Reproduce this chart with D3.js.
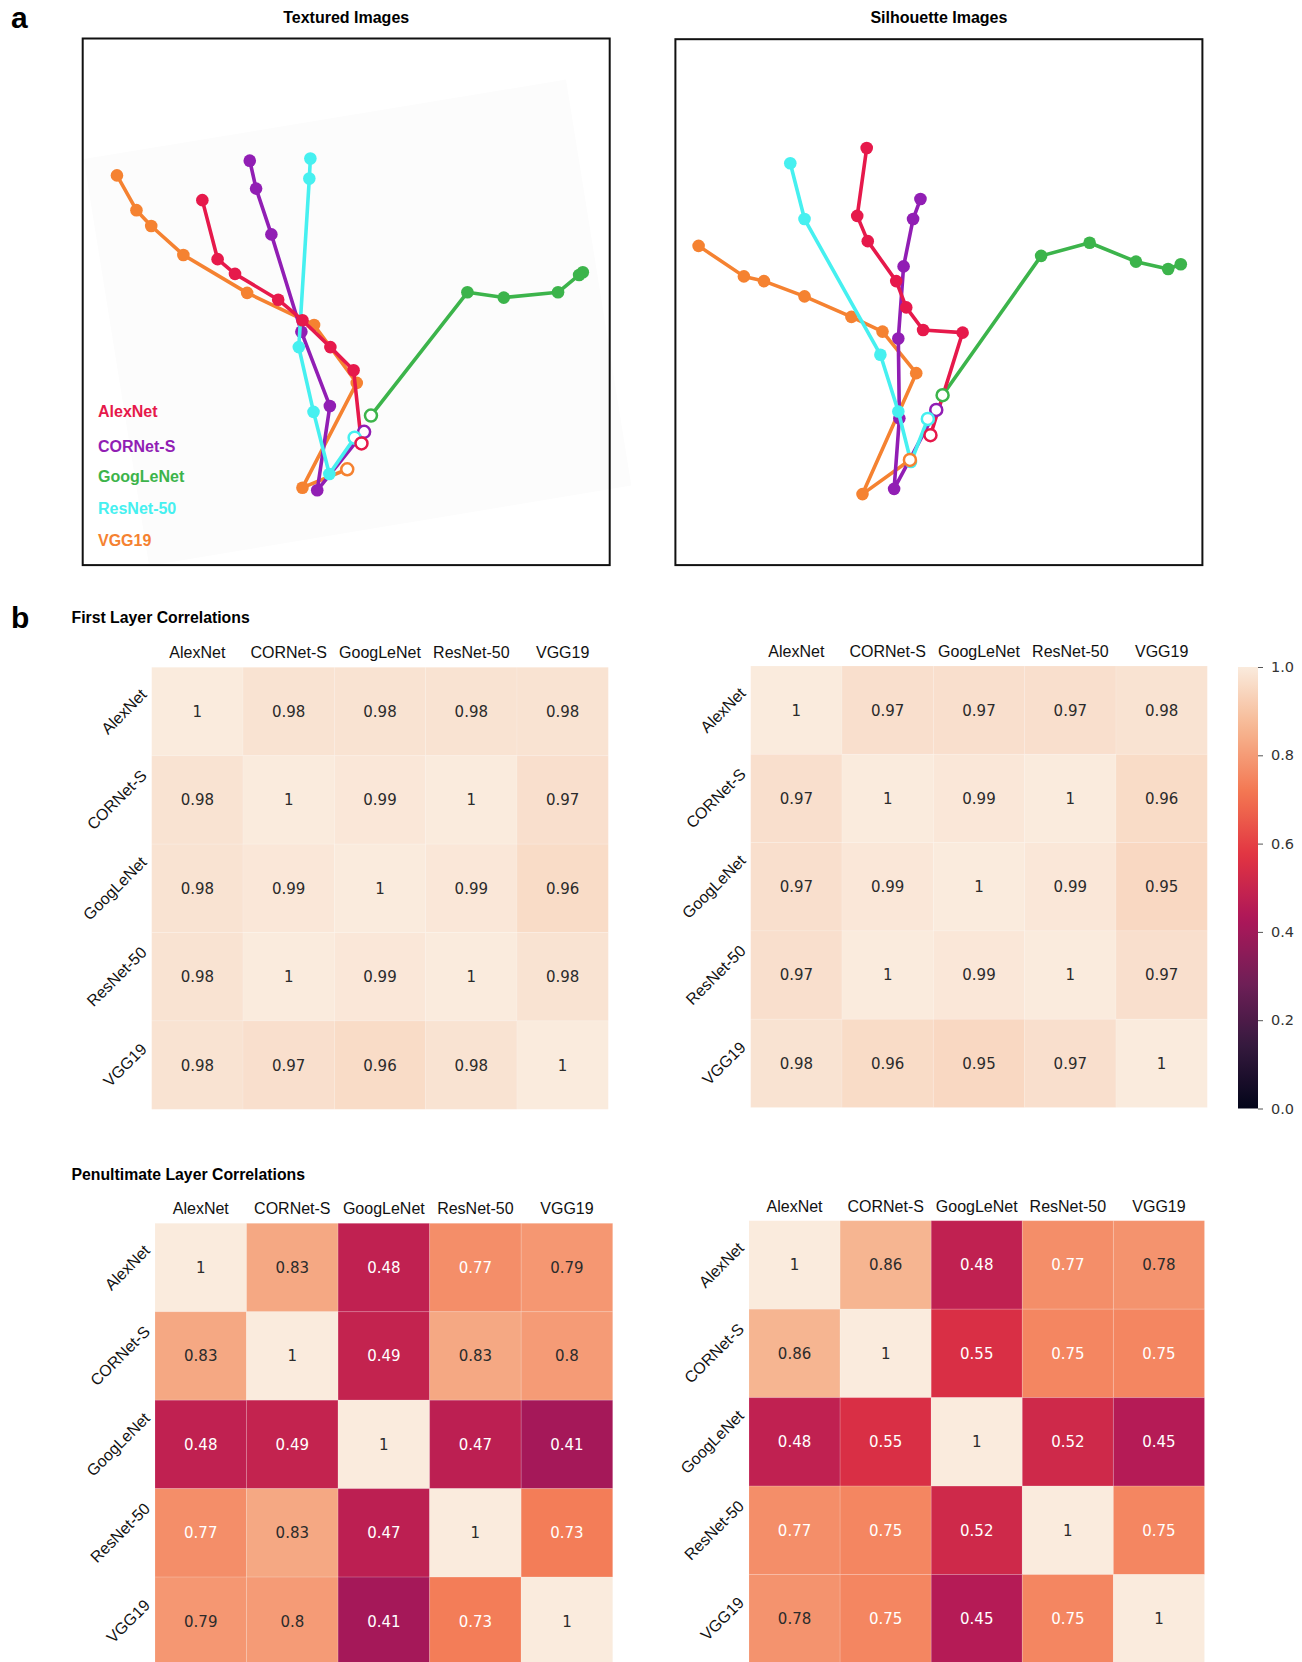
<!DOCTYPE html>
<html>
<head>
<meta charset="utf-8">
<script src="https://cdn.jsdelivr.net/npm/d3@7"></script>
<style>
body { margin: 0; background: #fff; }
svg { display: block; }
text { font-family: "Liberation Sans", Arial, sans-serif; }
</style>
</head>
<body>
<svg id="fig" width="1302" height="1662"></svg>
<script>
// network names + colours
const nets = ["AlexNet", "CORNet-S", "GoogLeNet", "ResNet-50", "VGG19"];
const netColors = ["#e6194b", "#911eb4", "#3cb44b", "#46f0f0", "#f58231"];

// layer trajectories in panel units (0-100, y down), last point = final layer
const texAlexNet = [[22.7,30.7],[25.6,41.9],[28.9,44.7],[37.1,49.6],[41.7,53.5],[47.0,58.6],[51.4,63.0],[52.9,76.9]];
const texCORNet = [[31.7,23.2],[32.9,28.5],[35.8,37.2],[41.5,55.7],[46.9,69.8],[44.5,85.8],[53.4,74.7]];
const texGoogLeNet = [[94.9,44.4],[94.2,44.9],[90.2,48.2],[79.9,49.2],[73.0,48.2],[54.7,71.6]];
const texResNet = [[43.2,22.8],[43.0,26.6],[41.0,58.6],[43.8,70.9],[46.8,82.7],[51.6,75.8]];
const texVGG = [[6.5,26.0],[10.2,32.6],[13.0,35.6],[19.1,41.1],[31.2,48.3],[43.9,54.4],[52.0,65.4],[41.7,85.3],[50.2,81.8]];

const silAlexNet = [[36.3,20.7],[34.5,33.6],[36.5,38.4],[41.9,46.0],[43.8,51.0],[47.0,55.3],[54.5,55.8],[48.4,75.3]];
const silCORNet = [[46.5,30.4],[45.1,34.2],[43.3,43.2],[42.3,56.9],[42.5,72.1],[41.5,85.5],[49.5,70.5]];
const silGoogLeNet = [[95.9,42.8],[93.5,43.7],[87.4,42.3],[78.6,38.7],[69.4,41.2],[50.7,67.7]];
const silResNet = [[21.8,23.6],[24.5,34.2],[38.9,60.0],[42.3,70.8],[44.7,80.4],[47.9,72.2]];
const silVGG = [[4.4,39.3],[13.0,45.1],[16.8,46.0],[24.5,48.9],[33.4,52.8],[39.3,55.6],[45.7,63.5],[35.5,86.5],[44.5,80.0]];

// correlation matrices (rows/cols in nets order)
const firstTex = [[1,0.98,0.98,0.98,0.98],[0.98,1,0.99,1,0.97],[0.98,0.99,1,0.99,0.96],[0.98,1,0.99,1,0.98],[0.98,0.97,0.96,0.98,1]];
const firstSil = [[1,0.97,0.97,0.97,0.98],[0.97,1,0.99,1,0.96],[0.97,0.99,1,0.99,0.95],[0.97,1,0.99,1,0.97],[0.98,0.96,0.95,0.97,1]];
const penTex = [[1,0.83,0.48,0.77,0.79],[0.83,1,0.49,0.83,0.8],[0.48,0.49,1,0.47,0.41],[0.77,0.83,0.47,1,0.73],[0.79,0.8,0.41,0.73,1]];
const penSil = [[1,0.86,0.48,0.77,0.78],[0.86,1,0.55,0.75,0.75],[0.48,0.55,1,0.52,0.45],[0.77,0.75,0.52,1,0.75],[0.78,0.75,0.45,0.75,1]];

const cbTicks = [0, 0.2, 0.4, 0.6, 0.8, 1.0];

// rocket-like colormap
const rocketStops = [0, 1/7, 2/7, 3/7, 4/7, 5/7, 6/7, 1];
const rocketColors = ["#03051a", "#35193e", "#701f57", "#ad1759", "#e13342", "#f37651", "#f6b48f", "#faebdd"];
const color = d3.scaleLinear().domain(rocketStops).range(rocketColors).interpolate(d3.interpolateRgb).clamp(true);

const svg = d3.select("#fig");
const defs = svg.append("defs");

function lum(c) {
  const o = d3.rgb(c);
  const f = v => { v /= 255; return v <= 0.03928 ? v / 12.92 : Math.pow((v + 0.055) / 1.055, 2.4); };
  return 0.2126 * f(o.r) + 0.7152 * f(o.g) + 0.0722 * f(o.b);
}

// ---------- panel a ----------
function trajPanel(series, box, title, withLegend, imgEdge) {
  const g = svg.append("g");
  const x = d3.scaleLinear().domain([0, 100]).range([box.x0, box.x1]);
  const y = d3.scaleLinear().domain([0, 100]).range([box.y0, box.y1]);

  if (imgEdge) {
    g.append("polygon")
      .attr("points", imgEdge.map(p => x(p[0]) + "," + y(p[1])).join(" "))
      .attr("fill", "#fcfcfc");
  }

  g.append("text")
    .attr("x", (box.x0 + box.x1) / 2).attr("y", 23)
    .attr("text-anchor", "middle")
    .attr("font-size", 16).attr("font-weight", "bold")
    .text(title);

  const line = d3.line().x(d => x(d[0])).y(d => y(d[1]));
  const order = [4, 1, 3, 2, 0];
  order.forEach(i => {
    const pts = series[i];
    g.append("path")
      .attr("d", line(pts))
      .attr("fill", "none")
      .attr("stroke", netColors[i])
      .attr("stroke-width", 3.6)
      .attr("stroke-linejoin", "round");
    g.selectAll(null).data(pts.slice(0, -1)).join("circle")
      .attr("cx", d => x(d[0])).attr("cy", d => y(d[1]))
      .attr("r", 6.3)
      .attr("fill", netColors[i]);
  });
  order.forEach(i => {
    const last = series[i][series[i].length - 1];
    g.append("circle")
      .attr("cx", x(last[0])).attr("cy", y(last[1]))
      .attr("r", 6)
      .attr("fill", "#fff")
      .attr("stroke", netColors[i])
      .attr("stroke-width", 2.5);
  });

  g.append("rect")
    .attr("x", box.x0).attr("y", box.y0)
    .attr("width", box.x1 - box.x0).attr("height", box.y1 - box.y0)
    .attr("fill", "none").attr("stroke", "#111").attr("stroke-width", 2);

  if (withLegend) {
    const legendY = [411, 446, 476, 508, 540];
    g.selectAll(".leg").data(nets).join("text")
      .attr("x", 98).attr("y", (d, i) => legendY[i])
      .attr("dy", "0.35em")
      .attr("font-size", 16).attr("font-weight", "bold")
      .attr("fill", (d, i) => netColors[i])
      .text(d => d);
  }
}

// edge of the rotated background image in the textured panel
const imgEdge = [[0.2, 22.9], [91.7, 7.8], [104.1, 84.9], [12.6, 100.1]];

trajPanel([texAlexNet, texCORNet, texGoogLeNet, texResNet, texVGG],
  { x0: 82.7, x1: 609.7, y0: 38.5, y1: 565.1 }, "Textured Images", true, imgEdge);
trajPanel([silAlexNet, silCORNet, silGoogLeNet, silResNet, silVGG],
  { x0: 675.4, x1: 1202.4, y0: 39.2, y1: 565.1 }, "Silhouette Images", false, null);

// ---------- panel b ----------
function heat(vals, box) {
  const g = svg.append("g");
  const x = d3.scaleBand().domain(nets).range([box.x0, box.x1]);
  const y = d3.scaleBand().domain(nets).range([box.y0, box.y1]);
  const cells = vals.flatMap((row, i) => row.map((v, j) => ({ r: nets[i], c: nets[j], v: v })));

  g.selectAll("rect").data(cells).join("rect")
    .attr("x", d => x(d.c)).attr("y", d => y(d.r))
    .attr("width", x.bandwidth()).attr("height", y.bandwidth())
    .attr("fill", d => color(d.v))
    .attr("stroke", "rgba(255,255,255,0.14)").attr("stroke-width", 1);

  g.selectAll(".ann").data(cells).join("text")
    .attr("x", d => x(d.c) + x.bandwidth() / 2)
    .attr("y", d => y(d.r) + y.bandwidth() / 2)
    .attr("text-anchor", "middle").attr("dy", "0.36em")
    .style("font-family", "'DejaVu Sans', sans-serif")
    .attr("font-size", 15)
    .attr("fill", d => lum(color(d.v)) > 0.408 ? "#2b2b2b" : "#fff")
    .text(d => String(d.v));

  const ax = g.append("g")
    .attr("transform", `translate(0,${box.y0})`)
    .call(d3.axisTop(x).tickSize(0).tickPadding(9));
  ax.select(".domain").remove();
  ax.selectAll("text")
    .style("font-family", "'Liberation Sans', Arial, sans-serif")
    .attr("font-size", 16).attr("fill", "#111");

  g.selectAll(".rl").data(nets).join("text")
    .attr("font-size", 16).attr("fill", "#111")
    .attr("text-anchor", "middle").attr("dominant-baseline", "central")
    .text(d => d)
    .attr("transform", function (d) {
      const L = this.getComputedTextLength();
      const w = (L + 11) * Math.SQRT1_2;
      return `translate(${box.x0 - 4 - w / 2},${y(d) + y.bandwidth() / 2}) rotate(-45)`;
    });
}

heat(firstTex, { x0: 151.7, x1: 608.3, y0: 667.3, y1: 1109.3 });
heat(firstSil, { x0: 750.7, x1: 1207.3, y0: 666, y1: 1107.5 });
heat(penTex, { x0: 155, x1: 612.7, y0: 1223.3, y1: 1665.5 });
heat(penSil, { x0: 749, x1: 1204.5, y0: 1220.7, y1: 1663 });

// colorbar
const cb = { x0: 1238, x1: 1258, y0: 667, y1: 1108.5 };
const cy = d3.scaleLinear().domain([0, 1]).range([cb.y1, cb.y0]);
const grad = defs.append("linearGradient").attr("id", "cbgrad")
  .attr("x1", 0).attr("y1", 1).attr("x2", 0).attr("y2", 0);
grad.selectAll("stop").data(d3.range(0, 1.0001, 0.02)).join("stop")
  .attr("offset", d => d).attr("stop-color", d => color(d));
svg.append("rect")
  .attr("x", cb.x0).attr("y", cb.y0)
  .attr("width", cb.x1 - cb.x0).attr("height", cb.y1 - cb.y0)
  .attr("fill", "url(#cbgrad)");
const cbAxis = svg.append("g")
  .attr("transform", `translate(${cb.x1},0)`)
  .call(d3.axisRight(cy).tickValues(cbTicks).tickFormat(d3.format(".1f")).tickSize(5).tickPadding(8));
cbAxis.select(".domain").remove();
cbAxis.selectAll("line").attr("stroke", "#555");
cbAxis.selectAll("text")
  .style("font-family", "'DejaVu Sans', sans-serif")
  .attr("font-size", 14.5).attr("fill", "#333");

// titles and panel letters
svg.append("text").attr("x", 11).attr("y", 28)
  .attr("font-size", 30).attr("font-weight", "bold").text("a");
svg.append("text").attr("x", 11).attr("y", 628)
  .attr("font-size", 30).attr("font-weight", "bold").text("b");
svg.append("text").attr("x", 71.5).attr("y", 623)
  .attr("font-size", 15.8).attr("font-weight", "bold").text("First Layer Correlations");
svg.append("text").attr("x", 71.5).attr("y", 1180)
  .attr("font-size", 15.8).attr("font-weight", "bold").text("Penultimate Layer Correlations");
</script>
</body>
</html>
